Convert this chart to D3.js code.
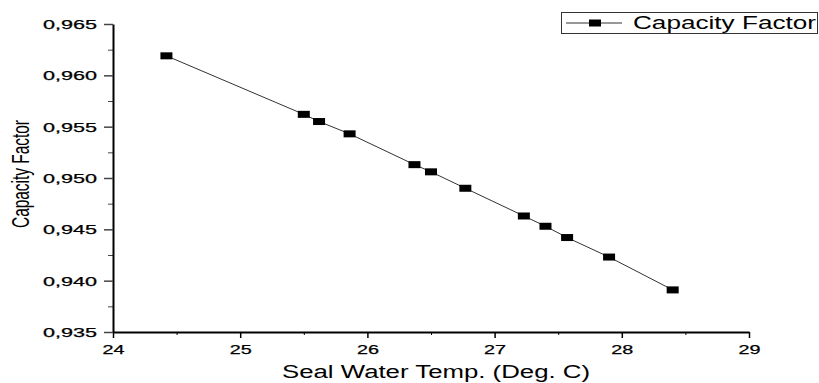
<!DOCTYPE html>
<html>
<head>
<meta charset="utf-8">
<script src="https://cdn.jsdelivr.net/npm/d3@7"></script>
<style>
  body { margin: 0; background: #fff; }
  text { font-family: "Liberation Sans", Arial, sans-serif; fill: #000; }
</style>
</head>
<body>
<div id="chart"></div>
<script>
// values
const seaWaterTemp = [24.42, 25.50, 25.62, 25.86, 26.37, 26.50, 26.77, 27.23, 27.40, 27.57, 27.90, 28.40];
const capacityFactor = [0.9619, 0.9562, 0.9555, 0.9543, 0.9513, 0.9506, 0.9490, 0.9463, 0.9453, 0.9442, 0.9423, 0.9391];
const xTicks = [24, 25, 26, 27, 28, 29];
const xMinorTicks = [24.5, 25.5, 26.5, 27.5, 28.5];
const yTicks = [0.935, 0.940, 0.945, 0.950, 0.955, 0.960, 0.965];
const yMinorTicks = [0.9375, 0.9425, 0.9475, 0.9525, 0.9575, 0.9625];
const seriesName = 'Capacity Factor';

const width = 819, height = 383;
const plotLeft = 113, plotRight = 749, plotTop = 24, plotBottom = 332;

const x = d3.scaleLinear().domain([24, 29]).range([plotLeft, plotRight]);
const y = d3.scaleLinear().domain([0.935, 0.965]).range([plotBottom, plotTop]);

const fmt = v => d3.format('.3f')(v).replace('.', ',');

const svg = d3.select('#chart').append('svg')
  .attr('width', width)
  .attr('height', height);

// x axis
const gx = svg.append('g')
  .attr('transform', 'translate(0,' + plotBottom + ')');
gx.call(d3.axisBottom(x).tickValues(xMinorTicks).tickSize(3).tickFormat(''));
gx.call(g => g.select('.domain').remove());
const gx2 = svg.append('g')
  .attr('transform', 'translate(0,' + plotBottom + ')');
gx2.call(d3.axisBottom(x).tickValues(xTicks).tickSize(6).tickSizeOuter(0).tickFormat(d3.format('d')).tickPadding(5));
gx2.select('.domain').attr('stroke-width', 2);
gx2.selectAll('.tick line').attr('stroke-width', 1.5);
gx2.selectAll('.tick text')
  .attr('font-size', 12.5)
  .attr('textLength', 22)
  .attr('lengthAdjust', 'spacingAndGlyphs')
  .attr('stroke', '#000').attr('stroke-width', 0.25)
  .attr('dy', '0.85em');

// y axis
const gy = svg.append('g')
  .attr('transform', 'translate(' + plotLeft + ',0)');
gy.call(d3.axisLeft(y).tickValues(yMinorTicks).tickSize(5).tickFormat(''));
gy.call(g => g.select('.domain').remove());
gy.selectAll('.tick line').attr('stroke', '#444');
const gy2 = svg.append('g')
  .attr('transform', 'translate(' + plotLeft + ',0)');
gy2.call(d3.axisLeft(y).tickValues(yTicks).tickSize(9).tickSizeOuter(0).tickFormat(fmt).tickPadding(7));
gy2.select('.domain').attr('stroke-width', 2);
gy2.selectAll('.tick line').attr('stroke', '#444').attr('stroke-width', 1.5);
gy2.selectAll('.tick text')
  .attr('font-size', 12.5)
  .attr('textLength', 54)
  .attr('lengthAdjust', 'spacingAndGlyphs')
  .attr('stroke', '#000').attr('stroke-width', 0.25)
  .attr('dy', '0.36em');

// axis titles
svg.append('text')
  .attr('x', 282)
  .attr('y', 378)
  .attr('font-size', 18)
  .attr('textLength', 308)
  .attr('lengthAdjust', 'spacingAndGlyphs')
  .text('Seal Water Temp. (Deg. C)');

svg.append('text')
  .attr('transform', 'translate(29,228) rotate(-90)')
  .attr('font-size', 23)
  .attr('textLength', 108)
  .attr('lengthAdjust', 'spacingAndGlyphs')
  .text('Capacity Factor');

// series
const pts = seaWaterTemp.map((t, i) => [t, capacityFactor[i]]);
const line = d3.line()
  .x(d => x(d[0]))
  .y(d => y(d[1]));

svg.append('path')
  .datum(pts)
  .attr('d', line)
  .attr('fill', 'none')
  .attr('stroke', '#333')
  .attr('stroke-width', 1);

const mw = 12, mh = 7;
svg.append('g').selectAll('rect')
  .data(pts)
  .join('rect')
  .attr('x', d => x(d[0]) - mw / 2)
  .attr('y', d => y(d[1]) - mh / 2)
  .attr('width', mw)
  .attr('height', mh)
  .attr('fill', '#000');

// legend
const lg = svg.append('g');
lg.append('rect')
  .attr('x', 561.5).attr('y', 12.5)
  .attr('width', 256).attr('height', 21)
  .attr('fill', '#fff')
  .attr('stroke', '#333')
  .attr('stroke-width', 1);
lg.append('line')
  .attr('x1', 566).attr('x2', 622)
  .attr('y1', 23).attr('y2', 23)
  .attr('stroke', '#333');
lg.append('rect')
  .attr('x', 595 - mw / 2).attr('y', 23 - mh / 2)
  .attr('width', mw).attr('height', mh)
  .attr('fill', '#000');
lg.append('text')
  .attr('x', 633).attr('y', 29)
  .attr('font-size', 17.5)
  .attr('textLength', 183)
  .attr('lengthAdjust', 'spacingAndGlyphs')
  .text(seriesName);
</script>
</body>
</html>
